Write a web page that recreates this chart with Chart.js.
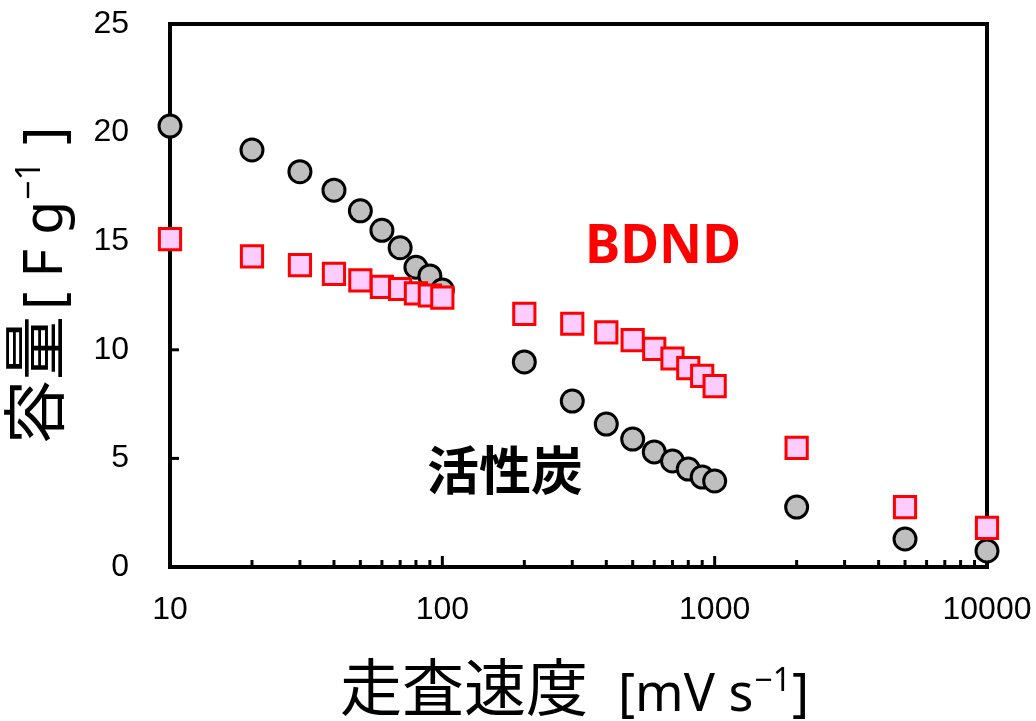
<!DOCTYPE html>
<html>
<head>
<meta charset="utf-8">
<script src="https://cdn.jsdelivr.net/npm/chart.js@4"></script>
<style>
  html, body { margin: 0; padding: 0; background: #fff; }
  #wrap { width: 1036px; height: 721px; }
</style>
</head>
<body>
<div id="wrap"><canvas id="cv" width="1036" height="721"></canvas></div>
<script>
// scan rate [mV s-1]
const scanRates = [10, 20, 30, 40, 50, 60, 70, 80, 90, 100, 200, 300, 400, 500, 600, 700, 800, 900, 1000, 2000, 5000, 10000];
// capacitance [F g-1]
const carbonCap = [20.3, 19.2, 18.2, 17.35, 16.4, 15.5, 14.7, 13.8, 13.4, 12.75, 9.44, 7.64, 6.58, 5.89, 5.3, 4.88, 4.51, 4.14, 3.96, 2.76, 1.29, 0.74];
const bdndCap = [15.1, 14.3, 13.9, 13.5, 13.2, 12.9, 12.8, 12.6, 12.5, 12.4, 11.65, 11.2, 10.8, 10.45, 10.04, 9.6, 9.16, 8.8, 8.33, 5.48, 2.76, 1.8];

const xTickValues = [10, 100, 1000, 10000];
const yTickValues = [0, 5, 10, 15, 20, 25];
const xMinorTicks = [20, 30, 40, 50, 60, 70, 80, 90, 200, 300, 400, 500, 600, 700, 800, 900, 2000, 3000, 4000, 5000, 6000, 7000, 8000, 9000];

const cjk = '"Noto Sans CJK JP", sans-serif';
const latin = '"Noto Sans", sans-serif';
const tickFont = { family: '"Liberation Sans", Arial, sans-serif', size: 32 };

// frame + inward ticks
const framePlugin = {
  id: 'frame',
  beforeDatasetsDraw(chart) {
    const { ctx, chartArea: a, scales } = chart;
    ctx.save();
    ctx.strokeStyle = '#000';
    ctx.lineCap = 'butt';
    ctx.lineWidth = 3;
    yTickValues.slice(1, -1).forEach(v => {
      const y = scales.y.getPixelForValue(v);
      ctx.beginPath(); ctx.moveTo(a.left, y); ctx.lineTo(a.left + 9, y); ctx.stroke();
    });
    xMinorTicks.forEach(v => {
      const x = scales.x.getPixelForValue(v);
      ctx.beginPath(); ctx.moveTo(x, a.bottom); ctx.lineTo(x, a.bottom - 7); ctx.stroke();
    });
    [100, 1000].forEach(v => {
      const x = scales.x.getPixelForValue(v);
      ctx.beginPath(); ctx.moveTo(x, a.bottom); ctx.lineTo(x, a.bottom - 11); ctx.stroke();
    });
    ctx.lineWidth = 4;
    ctx.lineJoin = 'miter';
    ctx.strokeRect(a.left, a.top, a.right - a.left, a.bottom - a.top);
    ctx.restore();
  },
  afterDraw(chart) {
    const { ctx } = chart;
    ctx.save();
    ctx.fillStyle = '#000';
    ctx.textBaseline = 'alphabetic';
    ctx.textAlign = 'left';

    // x title
    let x = 340;
    const by = 711;
    ctx.font = '62px ' + cjk;
    ctx.fillText('走査速度', x, by);
    x = 618;
    ctx.font = '52px ' + latin;
    ctx.fillText('[mV s', x, by);
    x += ctx.measureText('[mV s').width;
    ctx.font = '32px ' + latin;
    ctx.fillText('\u22121', x + 1, by - 20);
    x += ctx.measureText('\u22121').width + 2;
    ctx.font = '52px ' + latin;
    ctx.fillText(']', x, by);

    // y title (rotated)
    ctx.translate(62, 444);
    ctx.rotate(-Math.PI / 2);
    let t = 0;
    ctx.font = '64px ' + cjk;
    ctx.fillText('容量', t, -4);
    t += ctx.measureText('容量').width + 6;
    ctx.font = '55px ' + latin;
    ctx.fillText('[ F g', t, 0);
    t += ctx.measureText('[ F g').width;
    ctx.font = '34px ' + latin;
    ctx.fillText('\u22121', t + 1, -22);
    t += ctx.measureText('\u22121').width + 3;
    ctx.font = '55px ' + latin;
    ctx.fillText(' ]', t, 0);
    ctx.restore();

    // series labels
    ctx.save();
    ctx.textAlign = 'center';
    ctx.textBaseline = 'middle';
    ctx.fillStyle = '#ff0000';
    ctx.font = 'bold 53px ' + latin;
    ctx.fillText('BDND', 663, 248);
    ctx.fillStyle = '#000';
    ctx.font = 'bold 52px ' + cjk;
    ctx.fillText('活性炭', 505, 470);
    ctx.restore();
  }
};

new Chart(document.getElementById('cv'), {
  type: 'scatter',
  data: {
    datasets: [
      {
        label: 'BDND',
        data: scanRates.map((r, i) => ({ x: r, y: bdndCap[i] })),
        pointStyle: 'rect',
        pointRadius: 15,
        pointBackgroundColor: '#ffccff',
        pointBorderColor: '#ff0000',
        pointBorderWidth: 3,
        clip: false
      },
      {
        label: '活性炭',
        data: scanRates.map((r, i) => ({ x: r, y: carbonCap[i] })),
        pointStyle: 'circle',
        pointRadius: 11,
        pointBackgroundColor: '#bfbfbf',
        pointBorderColor: '#000000',
        pointBorderWidth: 3,
        clip: false
      }
    ]
  },
  options: {
    responsive: false,
    animation: false,
    layout: { padding: { left: 0, right: 49, top: 24, bottom: 0 } },
    plugins: { legend: { display: false }, tooltip: { enabled: false } },
    scales: {
      x: {
        type: 'logarithmic',
        min: 10,
        max: 10000,
        grid: { display: false },
        border: { display: false },
        afterBuildTicks: s => { s.ticks = xTickValues.map(v => ({ value: v })); },
        afterFit: s => { s.height = 154; s.paddingLeft = 0; s.paddingRight = 0; },
        ticks: {
          color: '#000',
          padding: 16,
          maxRotation: 0,
          autoSkip: false,
          font: tickFont,
          callback: v => String(v)
        }
      },
      y: {
        min: 0,
        max: 25,
        grid: { display: false },
        border: { display: false },
        afterBuildTicks: s => { s.ticks = yTickValues.map(v => ({ value: v })); },
        afterFit: s => { s.width = 170; s.paddingTop = 0; s.paddingBottom = 0; },
        ticks: {
          color: '#000',
          padding: 33,
          font: tickFont
        }
      }
    }
  },
  plugins: [framePlugin]
});
</script>
</body>
</html>
